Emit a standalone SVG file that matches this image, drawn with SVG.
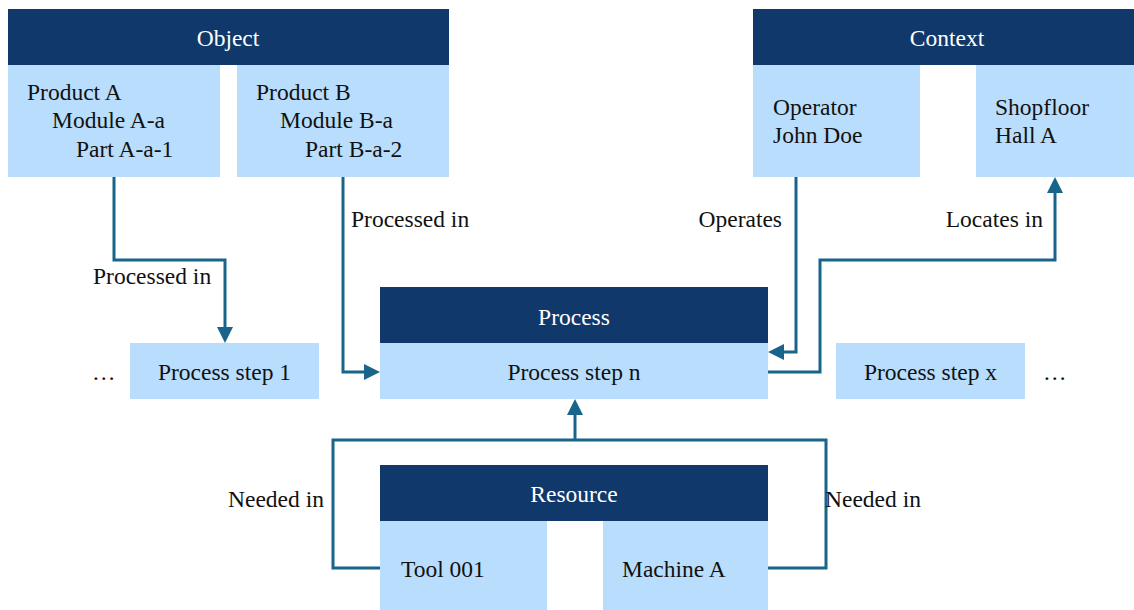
<svg xmlns="http://www.w3.org/2000/svg" width="1134" height="610" viewBox="0 0 1134 610">
  <style>
    .head { fill: #10386a; }
    .item { fill: #b9ddfc; }
    text { font-family: "Liberation Serif", "Times New Roman", serif; font-size: 23.5px; fill: #111111; }
    .ht { fill: #ffffff; text-anchor: middle; }
    .mid { text-anchor: middle; }
    .end { text-anchor: end; }
    .wire { fill: none; stroke: #19648a; stroke-width: 3; stroke-linejoin: miter; }
  </style>
  <defs>
    <marker id="arrow" markerUnits="userSpaceOnUse" markerWidth="16" markerHeight="16" refX="6" refY="8" orient="auto">
      <path d="M0,0 L16,8 L0,16 z" fill="#19648a"/>
    </marker>
  </defs>

  <rect width="1134" height="610" fill="#ffffff"/>

  <!-- Object category -->
  <g id="object">
    <rect class="head" x="8" y="9" width="441" height="56"/>
    <text class="ht" x="228" y="46">Object</text>
  </g>
  <g id="product-a">
    <rect class="item" x="8" y="65" width="212" height="112"/>
    <text x="27" y="100">Product A</text>
    <text x="52" y="128">Module A-a</text>
    <text x="76" y="157">Part A-a-1</text>
  </g>
  <g id="product-b">
    <rect class="item" x="237" y="65" width="212" height="112"/>
    <text x="256" y="100">Product B</text>
    <text x="280" y="128">Module B-a</text>
    <text x="305" y="157">Part B-a-2</text>
  </g>

  <!-- Context category -->
  <g id="context">
    <rect class="head" x="753" y="9" width="390" height="56"/>
    <text class="ht" x="947" y="46">Context</text>
  </g>
  <g id="operator">
    <rect class="item" x="753" y="65" width="167" height="112"/>
    <text x="773" y="115">Operator</text>
    <text x="773" y="143">John Doe</text>
  </g>
  <g id="shopfloor">
    <rect class="item" x="976" y="65" width="167" height="112"/>
    <text x="995" y="115">Shopfloor</text>
    <text x="995" y="143">Hall A</text>
  </g>

  <!-- Process category -->
  <g id="process">
    <rect class="head" x="380" y="287" width="388" height="56"/>
    <text class="ht" x="574" y="325">Process</text>
  </g>
  <g id="process-step-n">
    <rect class="item" x="380" y="343" width="388" height="56"/>
    <text class="mid" x="574" y="380">Process step n</text>
  </g>
  <g id="process-step-1">
    <rect class="item" x="130" y="343" width="189" height="56"/>
    <text class="mid" x="224.5" y="380">Process step 1</text>
    <text x="92" y="380">…</text>
  </g>
  <g id="process-step-x">
    <rect class="item" x="836" y="343" width="189" height="56"/>
    <text class="mid" x="930.5" y="380">Process step x</text>
    <text x="1043" y="380">…</text>
  </g>

  <!-- Resource category -->
  <g id="resource">
    <rect class="head" x="380" y="465" width="388" height="56"/>
    <text class="ht" x="574" y="502">Resource</text>
  </g>
  <g id="tool">
    <rect class="item" x="380" y="521" width="167" height="89"/>
    <text x="401" y="577">Tool 001</text>
  </g>
  <g id="machine">
    <rect class="item" x="603" y="521" width="165" height="89"/>
    <text x="622" y="577">Machine A</text>
  </g>

  <!-- Relations -->
  <g id="connectors">
    <path class="wire" d="M114,177 V260 H225 V333" marker-end="url(#arrow)"/>
    <text x="93" y="284">Processed in</text>

    <path class="wire" d="M343,177 V372 H370" marker-end="url(#arrow)"/>
    <text x="351" y="227">Processed in</text>

    <path class="wire" d="M796,177 V352 H778" marker-end="url(#arrow)"/>
    <text class="end" x="782" y="227">Operates</text>

    <path class="wire" d="M768,372 H820 V260 H1055 V187" marker-end="url(#arrow)"/>
    <text class="end" x="1043" y="227">Locates in</text>

    <path class="wire" d="M380,568 H333 V440 H826 V568 H768"/>
    <path class="wire" d="M575,440 V409" marker-end="url(#arrow)"/>
    <text x="228" y="507">Needed in</text>
    <text x="825" y="507">Needed in</text>
  </g>
</svg>
